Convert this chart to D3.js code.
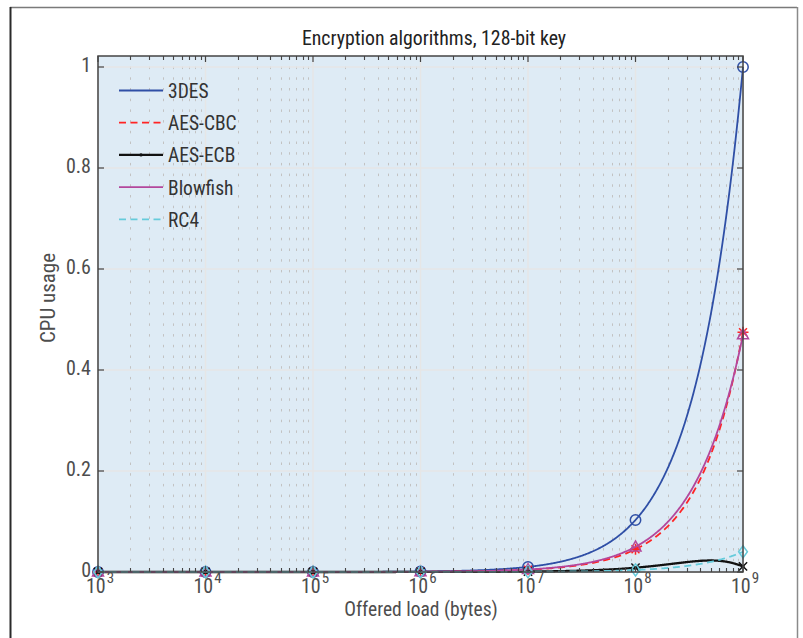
<!DOCTYPE html>
<html>
<head>
<meta charset="utf-8">
<script src="https://cdn.jsdelivr.net/npm/d3@7"></script>
<style>
  html, body { margin: 0; padding: 0; background: #fff; }
  svg { display: block; }
  text { font-family: "Liberation Sans Narrow", "Roboto Condensed", "DejaVu Sans Condensed", "Noto Sans", sans-serif; }
</style>
</head>
<body>
<svg id="chart" width="803" height="638"></svg>
<script>
// Offered load (bytes), one sample per decade
const loads = [1e3, 1e4, 1e5, 1e6, 1e7, 1e8, 1e9];

// CPU usage for each algorithm at the loads above
const des3     = [0.000001, 0.00001, 0.0001, 0.001, 0.0101, 0.103, 1.0];
const aesCbc   = [0.00000045, 0.0000045, 0.000045, 0.00045, 0.0045, 0.045, 0.475];
const aesEcb   = [0.000000085, 0.00000085, 0.0000085, 0.000085, 0.00085, 0.0085, 0.011];
const blowfish = [0.0000005, 0.000005, 0.00005, 0.0005, 0.005, 0.05, 0.47];
const rc4      = [0.00000004, 0.0000004, 0.000004, 0.00004, 0.0004, 0.004, 0.04];

const seriesNames = ["3DES", "AES-CBC", "AES-ECB", "Blowfish", "RC4"];
const seriesValues = [des3, aesCbc, aesEcb, blowfish, rc4];

const yTicks = [0, 0.2, 0.4, 0.6, 0.8, 1];
const yTickLabels = ["0", "0.2", "0.4", "0.6", "0.8", "1"];
const xTickExponents = [3, 4, 5, 6, 7, 8, 9];

const titleText = "Encryption algorithms, 128-bit key";
const xLabelText = "Offered load (bytes)";
const yLabelText = "CPU usage";

// ---- styling ----
const styles = [
  { color: "#2f4fa6", dash: null,  width: 1.8, marker: "circle" },
  { color: "#ff2424", dash: "7,4.5", width: 1.8, marker: "star" },
  { color: "#111111", dash: null,  width: 2.3, marker: "cross" },
  { color: "#b3479c", dash: null,  width: 1.8, marker: "triangle" },
  { color: "#66cbdb", dash: "7,4.5", width: 1.8, marker: "diamond" }
];

const svg = d3.select("#chart");
const L = 98, R = 743, B = 572, T = 56;

const x = d3.scaleLog().domain([1e3, 1e9]).range([L, R]);
const y = d3.scaleLinear().domain([0, 1.02]).range([B, B - 505 * 1.02]);

// outer figure frame
svg.append("line").attr("x1", 10).attr("x2", 797).attr("y1", 7.5).attr("y2", 7.5)
  .attr("stroke", "#7a7a7a").attr("stroke-width", 1.5);
svg.append("line").attr("x1", 10.5).attr("x2", 10.5).attr("y1", 7).attr("y2", 638)
  .attr("stroke", "#2a2a2a").attr("stroke-width", 2);
svg.append("line").attr("x1", 797.5).attr("x2", 797.5).attr("y1", 7).attr("y2", 638)
  .attr("stroke", "#8a8a8a").attr("stroke-width", 1.5);

// plot background
svg.append("rect").attr("x", L).attr("y", T).attr("width", R - L).attr("height", B - T)
  .attr("fill", "#deebf5");

const snap = v => Math.round(v) + 0.5;

const grid = svg.append("g");
// minor vertical grid (dotted)
const minorX = [];
for (let e = 3; e < 9; e++) for (let k = 2; k <= 9; k++) minorX.push(k * Math.pow(10, e));
grid.selectAll("line.minor").data(minorX).join("line")
  .attr("class", "minor")
  .attr("x1", d => snap(x(d))).attr("x2", d => snap(x(d)))
  .attr("y1", B).attr("y2", T)
  .attr("stroke", "#c2c2c2").attr("stroke-width", 1)
  .attr("stroke-dasharray", "2.5,8.2");
// major grid
grid.selectAll("line.mx").data(xTickExponents).join("line")
  .attr("class", "mx")
  .attr("x1", d => x(Math.pow(10, d))).attr("x2", d => x(Math.pow(10, d)))
  .attr("y1", B).attr("y2", T)
  .attr("stroke", "#e6e6e6").attr("stroke-width", 1.5);
grid.selectAll("line.my").data(yTicks).join("line")
  .attr("class", "my")
  .attr("x1", L).attr("x2", R)
  .attr("y1", d => y(d)).attr("y2", d => y(d))
  .attr("stroke", "#e6e6e6").attr("stroke-width", 1.5);

// natural cubic spline through (xs, ys), evaluated in linear x
function naturalSpline(xs, ys) {
  const n = xs.length;
  const h = d3.range(n - 1).map(i => xs[i + 1] - xs[i]);
  const M = new Array(n).fill(0);
  const a = [], b = [], c = [], r = [];
  for (let i = 1; i < n - 1; i++) {
    a.push(h[i - 1]);
    b.push(2 * (h[i - 1] + h[i]));
    c.push(h[i]);
    r.push(6 * ((ys[i + 1] - ys[i]) / h[i] - (ys[i] - ys[i - 1]) / h[i - 1]));
  }
  const m = b.length;
  for (let i = 1; i < m; i++) {
    const w = a[i] / b[i - 1];
    b[i] -= w * c[i - 1];
    r[i] -= w * r[i - 1];
  }
  const sol = new Array(m);
  sol[m - 1] = r[m - 1] / b[m - 1];
  for (let i = m - 2; i >= 0; i--) sol[i] = (r[i] - c[i] * sol[i + 1]) / b[i];
  for (let i = 0; i < m; i++) M[i + 1] = sol[i];
  return function (xv) {
    let i = d3.bisectRight(xs, xv) - 1;
    i = Math.max(0, Math.min(n - 2, i));
    const hi = h[i], t1 = xs[i + 1] - xv, t0 = xv - xs[i];
    return M[i] * t1 * t1 * t1 / (6 * hi) + M[i + 1] * t0 * t0 * t0 / (6 * hi)
      + (ys[i] / hi - M[i] * hi / 6) * t1 + (ys[i + 1] / hi - M[i + 1] * hi / 6) * t0;
  };
}

const sampleX = d3.range(0, 1201).map(k => Math.pow(10, 3 + 6 * k / 1200));
const line = d3.line().x(d => x(d[0])).y(d => y(d[1]));

const plot = svg.append("g");
function markerPath(type, s) {
  switch (type) {
    case "star": {
      const d = s * 0.72;
      return `M${-s},0L${s},0M0,${-s}L0,${s}M${-d},${-d}L${d},${d}M${-d},${d}L${d},${-d}`;
    }
    case "cross": return `M${-s * 0.75},${-s * 0.75}L${s * 0.75},${s * 0.75}M${-s * 0.75},${s * 0.75}L${s * 0.75},${-s * 0.75}`;
    case "triangle": return `M0,${-s * 1.05}L${s},${s * 0.75}L${-s},${s * 0.75}Z`;
    case "diamond": return `M0,${-s * 1.1}L${s * 0.8},0L0,${s * 1.1}L${-s * 0.8},0Z`;
  }
  return null;
}

seriesValues.forEach((vals, si) => {
  const st = styles[si];
  const f = naturalSpline(loads, vals);
  const pts = sampleX.map(xv => [xv, f(xv)]);
  plot.append("path").datum(pts)
    .attr("d", line)
    .attr("fill", "none")
    .attr("stroke", st.color)
    .attr("stroke-width", st.width)
    .attr("stroke-dasharray", st.dash)
    .attr("stroke-linejoin", "round");
  const mg = plot.append("g");
  loads.forEach((lx, i) => {
    const cx = x(lx), cy = y(vals[i]);
    if (st.marker === "circle") {
      mg.append("circle").attr("cx", cx).attr("cy", cy).attr("r", 5.2)
        .attr("fill", "none").attr("stroke", st.color).attr("stroke-width", 1.5);
    } else {
      mg.append("path").attr("transform", `translate(${cx},${cy})`)
        .attr("d", markerPath(st.marker, 5.5))
        .attr("fill", "none").attr("stroke", st.color).attr("stroke-width", 1.5);
    }
    if (st.marker === "cross") {
      mg.append("circle").attr("cx", cx).attr("cy", cy).attr("r", 1.6).attr("fill", st.color);
    }
  });
});

// axes box and ticks
const axisColor = "#444";
const ax = svg.append("g");
ax.append("rect").attr("x", L).attr("y", T).attr("width", R - L).attr("height", B - T)
  .attr("fill", "none").attr("stroke", axisColor).attr("stroke-width", 1.5);
xTickExponents.forEach(e => {
  const px = x(Math.pow(10, e));
  ax.append("line").attr("x1", px).attr("x2", px).attr("y1", B).attr("y2", B - 6).attr("stroke", axisColor).attr("stroke-width", 1.2);
  ax.append("line").attr("x1", px).attr("x2", px).attr("y1", T).attr("y2", T + 6).attr("stroke", axisColor).attr("stroke-width", 1.2);
});
minorX.forEach(v => {
  const px = snap(x(v));
  ax.append("line").attr("x1", px).attr("x2", px).attr("y1", B).attr("y2", B - 4).attr("stroke", axisColor).attr("stroke-width", 1.1);
  ax.append("line").attr("x1", px).attr("x2", px).attr("y1", T).attr("y2", T + 4).attr("stroke", axisColor).attr("stroke-width", 1.1);
});
yTicks.forEach(v => {
  const py = y(v);
  ax.append("line").attr("x1", L).attr("x2", L + 6).attr("y1", py).attr("y2", py).attr("stroke", axisColor).attr("stroke-width", 1.2);
  ax.append("line").attr("x1", R).attr("x2", R - 6).attr("y1", py).attr("y2", py).attr("stroke", axisColor).attr("stroke-width", 1.2);
});

// tick labels
const labelColor = "#4d4d4d";
svg.append("g").selectAll("text").data(yTicks).join("text")
  .attr("x", 91).attr("y", d => y(d) + 5)
  .attr("text-anchor", "end").attr("font-size", 20).attr("fill", labelColor)
  .text((d, i) => yTickLabels[i]);

const xl = svg.append("g").selectAll("text").data(xTickExponents).join("text")
  .attr("x", d => x(Math.pow(10, d)) + 2).attr("y", 593)
  .attr("text-anchor", "middle").attr("font-size", 20).attr("fill", labelColor);
xl.append("tspan").text("10");
xl.append("tspan").attr("dx", 1).attr("dy", -10).attr("font-size", 15).text(d => d);

// axis titles and chart title
svg.append("text").attr("x", 421).attr("y", 616).attr("text-anchor", "middle")
  .attr("font-size", 19.5).attr("fill", labelColor).text(xLabelText);
svg.append("text").attr("transform", "translate(55,298) rotate(-90)")
  .attr("text-anchor", "middle").attr("font-size", 21).attr("fill", labelColor).text(yLabelText);
svg.append("text").attr("x", 434).attr("y", 45).attr("text-anchor", "middle")
  .attr("font-size", 19.8).attr("fill", "#222").text(titleText);

// legend
const lg = svg.append("g");
seriesNames.forEach((name, i) => {
  const st = styles[i];
  const ly = 90.5 + i * 32.2;
  lg.append("line").attr("x1", 119).attr("x2", 163).attr("y1", ly).attr("y2", ly)
    .attr("stroke", st.color).attr("stroke-width", st.width).attr("stroke-dasharray", st.dash);
  if (st.marker === "cross") lg.append("circle").attr("cx", 141).attr("cy", ly).attr("r", 1.6).attr("fill", st.color);
  lg.append("text").attr("x", 168).attr("y", ly + 7.5).attr("font-size", 19.5).attr("fill", "#333").text(name);
});
</script>
</body>
</html>
